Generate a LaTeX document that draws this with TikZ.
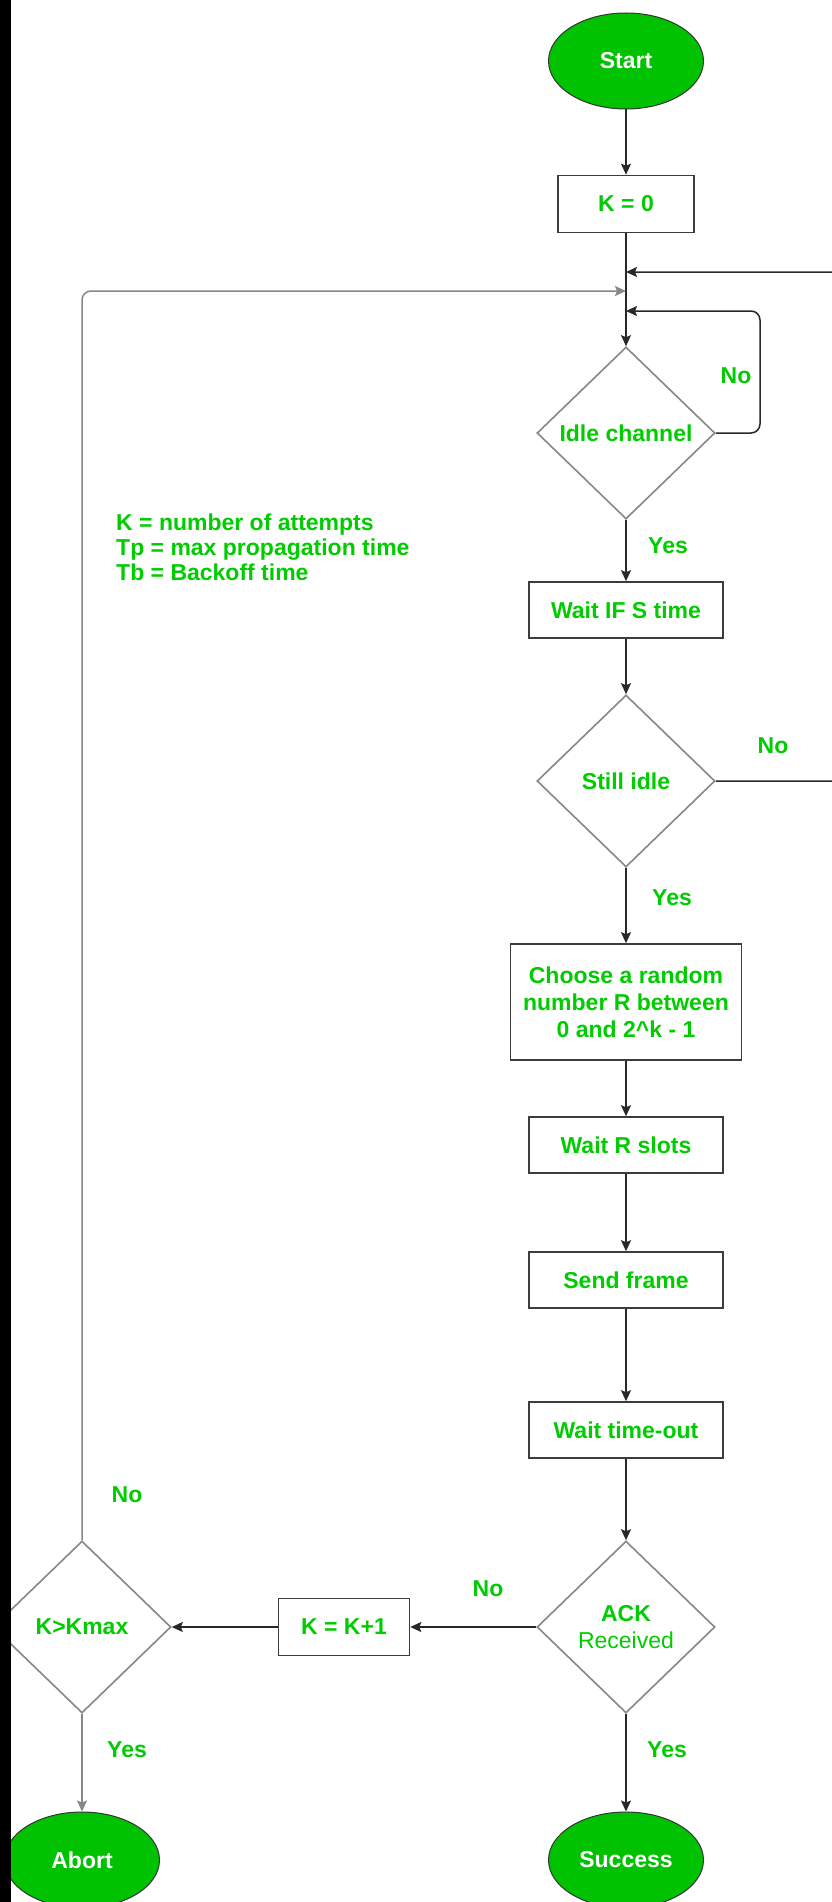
\documentclass[tikz,border=0pt]{standalone}
\usepackage{fontspec}
\setmainfont{Liberation Sans}
\usetikzlibrary{shapes.geometric,arrows.meta}
\definecolor{txtgreen}{RGB}{0,204,0}
\definecolor{fillgreen}{RGB}{0,194,0}
\definecolor{edgegray}{RGB}{135,135,135}
\definecolor{boxedge}{RGB}{60,60,60}
\definecolor{wire}{RGB}{40,40,40}

\begin{document}
\begin{tikzpicture}[x=1pt,y=-1pt,
  gtext/.style={text=txtgreen,font=\fontsize{23}{27}\selectfont\bfseries,inner sep=1pt},
  proc/.style={gtext,draw=boxedge,line width=1.6pt,fill=white,
    minimum width=194pt,minimum height=56pt,inner sep=2pt,align=center},
  decision/.style={gtext,diamond,draw=edgegray,line width=1.6pt,fill=white,
    minimum width=178pt,minimum height=172pt,inner sep=1pt,align=center},
  term/.style={ellipse,draw=black!80,line width=1pt,fill=fillgreen,
    minimum width=155pt,minimum height=96pt,inner sep=1pt,text=white,
    font=\fontsize{23}{27}\selectfont\bfseries},
  arr/.style={draw=wire,line width=1.5pt,
    -{Stealth[length=11pt,width=10pt,inset=2pt]}},
  loopline/.style={arr,draw=edgegray,rounded corners=9pt}
]
\useasboundingbox (0,0) rectangle (831,1902);
\fill[white] (0,0) rectangle (831,1902);

% main column
\node[term] (start) at (626,61) {Start};
\node[proc,minimum width=136pt,minimum height=57pt] (k0) at (626,204) {K = 0};
\node[decision] (idle) at (626,433) {Idle channel};
\node[proc] (ifs) at (626,610) {Wait IF S time};
\node[decision] (still) at (626,781) {Still idle};
\node[proc,minimum width=231pt,minimum height=116pt] (choose) at (626,1002)
  {Choose a random\\number R between\\0 and 2\textasciicircum k - 1};
\node[proc] (wr) at (626,1145) {Wait R slots};
\node[proc] (send) at (626,1280) {Send frame};
\node[proc] (wto) at (626,1430) {Wait time-out};
\node[decision] (ack) at (626,1627) {ACK\\{\mdseries Received}};
\node[term] (success) at (626,1860) {Success};

% retry branch
\node[proc,minimum width=131pt,minimum height=57pt] (inc) at (344,1627) {K = K+1};
\node[decision] (kmax) at (82,1627) {K>Kmax};
\node[term] (abort) at (82,1860) {Abort};

% merge points on the main column
\coordinate (jr) at (626,272);
\coordinate (jl) at (626,291);
\coordinate (ji) at (626,311);

% straight flow
\draw[arr] (start) -- (k0);
\draw[arr] (k0) -- (idle);
\draw[arr] (idle) -- (ifs);
\draw[arr] (ifs) -- (still);
\draw[arr] (still) -- (choose);
\draw[arr] (choose) -- (wr);
\draw[arr] (wr) -- (send);
\draw[arr] (send) -- (wto);
\draw[arr] (wto) -- (ack);
\draw[arr] (ack) -- (success);
\draw[arr] (ack.west) -- (inc.east);
\draw[arr] (inc.west) -- (kmax.east);
\draw[arr,draw=edgegray] (kmax) -- (abort);

% loops back to the channel check
\draw[loopline,draw=wire] (idle.east) -- (760,433) -- (760,311) -- (ji);
\draw[arr,rounded corners=9pt] (still.east) -- (862,781) -- (862,272) -- (jr);
\draw[loopline] (kmax.north) -- (82,291) -- (jl);

% branch labels
\node[gtext] (n1) at (736,376) {No};
\node[gtext] (y1) at (668,546) {Yes};
\node[gtext] (n2) at (773,746) {No};
\node[gtext] (y2) at (672,898) {Yes};
\node[gtext] (n3) at (488,1589) {No};
\node[gtext] (n4) at (127,1495) {No};
\node[gtext] (y3) at (127,1750) {Yes};
\node[gtext] (y4) at (667,1750) {Yes};

% legend
\node[gtext,anchor=west,align=left,font=\fontsize{23}{25}\selectfont\bfseries]
  (legend) at (115,547)
  {K = number of attempts\\Tp = max propagation time\\Tb = Backoff time};

% dark strip along the left edge
\fill[black] (0,0) rectangle (11,1902);
\end{tikzpicture}
\end{document}
